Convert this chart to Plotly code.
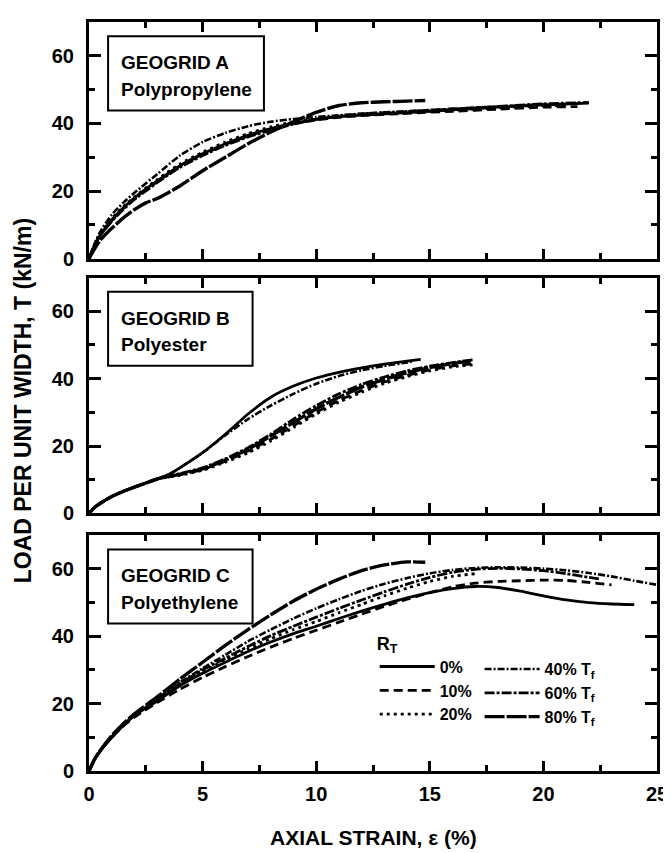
import plotly.graph_objects as go

# ---------------- data ----------------
series_names = ["0%", "10%", "20%", "40% T<sub>f</sub>", "60% T<sub>f</sub>", "80% T<sub>f</sub>"]
x_ticks = [0, 5, 10, 15, 20, 25]
y_ticks = [0, 20, 40, 60]
panel_titles = ["GEOGRID A", "GEOGRID B", "GEOGRID C"]
panel_materials = ["Polypropylene", "Polyester", "Polyethylene"]

# Geogrid A (polypropylene)
strain_A_0 = [0, 0.25, 0.5, 1, 1.5, 2, 3, 4, 5, 6, 7, 8, 9, 10, 11, 12, 14, 16, 18, 20, 22]
load_A_0 = [0, 4, 7, 11.5, 15, 18, 23, 27.5, 31, 34, 36.5, 38.5, 40, 41.2, 42, 42.5, 43.2, 44, 44.8, 45.5, 46]
strain_A_10 = [0, 0.25, 0.5, 1, 1.5, 2, 3, 4, 5, 6, 7, 8, 9, 10, 11, 12, 14, 16, 18, 20, 21.5]
load_A_10 = [0, 4, 7, 11.3, 14.8, 17.8, 22.8, 27.3, 30.8, 33.8, 36.3, 38.4, 40, 41, 41.8, 42.3, 43, 43.6, 44.2, 44.8, 45]
strain_A_20 = [0, 0.25, 0.5, 1, 1.5, 2, 3, 4, 5, 6, 7, 8, 9, 10, 11, 12, 14, 16, 18, 20, 21]
load_A_20 = [0, 4.2, 7.3, 11.8, 15.3, 18.3, 23.4, 28, 31.5, 34.5, 37, 39, 40.4, 41.3, 42, 42.5, 43.2, 43.9, 44.6, 45.2, 45.3]
strain_A_40 = [0, 0.25, 0.5, 1, 1.5, 2, 3, 4, 5, 6, 7, 8, 9, 10, 11, 12, 14, 16, 18, 20, 21]
load_A_40 = [0, 4.5, 8, 13, 16.5, 19.5, 25, 30.5, 34.5, 37.2, 39.2, 40.5, 41.3, 41.9, 42.4, 42.9, 43.6, 44.3, 45, 45.6, 45.4]
strain_A_60 = [0, 0.25, 0.5, 1, 1.5, 2, 3, 4, 5, 6, 7, 8, 9, 10, 11, 12, 14, 16, 18, 20, 22]
load_A_60 = [0, 4, 7, 11, 14.5, 17.5, 22.5, 27, 30.5, 33.5, 36, 38, 39.8, 41.2, 42.2, 42.8, 43.5, 44.3, 45, 45.8, 46.2]
strain_A_80 = [0, 0.25, 0.5, 1, 1.5, 2, 2.5, 3, 4, 5, 6, 7, 8, 9, 10, 11, 12, 13, 14, 14.8]
load_A_80 = [0, 3, 5.5, 9, 12, 14.5, 16.5, 17.8, 21.5, 26, 30, 34, 37.5, 40.5, 43.3, 45.3, 46.1, 46.4, 46.6, 46.8]

# Geogrid B (polyester)
strain_B_0 = [0, 0.25, 0.5, 1, 1.5, 2, 2.5, 3, 3.5, 4, 5, 6, 7, 8, 9, 10, 11, 12, 13, 14, 14.6]
load_B_0 = [0, 1.8, 3, 5, 6.5, 7.8, 9, 10.2, 11.5, 13.5, 18, 23.5, 29.5, 34.5, 37.8, 40.2, 41.9, 43.2, 44.3, 45.2, 45.7]
strain_B_10 = [0, 0.25, 0.5, 1, 1.5, 2, 2.5, 3, 4, 5, 6, 7, 8, 9, 10, 11, 12, 13, 14, 15, 16, 17]
load_B_10 = [0, 1.8, 3, 5, 6.5, 7.8, 9, 10.2, 11.5, 13, 15.5, 18.5, 22, 26, 30, 33.5, 36.5, 39, 41, 42.6, 43.8, 44.5]
strain_B_20 = [0, 0.25, 0.5, 1, 1.5, 2, 2.5, 3, 4, 5, 6, 7, 8, 9, 10, 11, 12, 13, 14, 15, 16, 17]
load_B_20 = [0, 1.8, 3, 5, 6.5, 7.8, 9, 10.2, 11.3, 12.8, 15.2, 18, 21.5, 25.5, 29.5, 33, 36, 38.6, 40.6, 42.3, 43.5, 44.2]
strain_B_40 = [0, 0.25, 0.5, 1, 1.5, 2, 2.5, 3, 3.5, 4, 5, 6, 7, 8, 9, 10, 11, 12, 13, 14, 14.2]
load_B_40 = [0, 1.8, 3, 5, 6.5, 7.8, 9, 10.2, 11.5, 13.5, 18, 23.2, 28, 32, 35.5, 38.5, 40.8, 42.5, 43.8, 44.8, 45]
strain_B_60 = [0, 0.25, 0.5, 1, 1.5, 2, 2.5, 3, 4, 5, 6, 7, 8, 9, 10, 11, 12, 13, 14, 15, 16, 16.9]
load_B_60 = [0, 1.8, 3, 5, 6.5, 7.8, 9, 10.2, 11.8, 13.5, 16.2, 19.5, 23.5, 28, 32, 35.5, 38.3, 40.5, 42.3, 43.7, 44.8, 45.6]
strain_B_80 = [0, 0.25, 0.5, 1, 1.5, 2, 2.5, 3, 4, 5, 6, 7, 8, 9, 10, 11, 12, 13, 14, 15, 16, 16.8]
load_B_80 = [0, 1.8, 3, 5, 6.5, 7.8, 9, 10.2, 11.6, 13.2, 15.8, 19, 23, 27, 31, 34.5, 37.5, 39.8, 41.8, 43.3, 44.5, 45.3]

# Geogrid C (polyethylene)
strain_C_0 = [0, 0.25, 0.5, 1, 1.5, 2, 3, 4, 5, 6, 7, 8, 9, 10, 11, 12, 13, 14, 15, 16, 17, 18, 19, 20, 21, 22, 23, 24]
load_C_0 = [0, 3.5, 6, 10, 13.5, 16.5, 20.8, 25.3, 29, 32.3, 35.5, 38.3, 40.8, 43, 45.3, 47.5, 49.5, 51.4, 53, 54.2, 54.8, 54.5, 53.4, 52, 50.8, 50, 49.6, 49.4]
strain_C_10 = [0, 0.25, 0.5, 1, 1.5, 2, 3, 4, 5, 6, 7, 8, 9, 10, 11, 12, 13, 14, 15, 16, 17, 18, 19, 20, 21, 22, 23]
load_C_10 = [0, 3.5, 6, 10, 13.3, 16, 20.3, 24.3, 27.8, 31, 34, 36.8, 39.4, 41.8, 44.2, 46.6, 48.9, 51, 53, 54.7, 55.8, 56.3, 56.5, 56.7, 56.6, 56, 55.3]
strain_C_20 = [0, 0.25, 0.5, 1, 1.5, 2, 3, 4, 5, 6, 7, 8, 9, 10, 11, 12, 13, 14, 15, 16, 17]
load_C_20 = [0, 3.5, 6, 10, 13.5, 16.5, 21, 25.8, 29.5, 33, 36.3, 39.3, 42, 44.4, 47, 49.5, 52, 54.3, 56.3, 57.8, 58.6]
strain_C_40 = [0, 0.25, 0.5, 1, 1.5, 2, 3, 4, 5, 6, 7, 8, 9, 10, 11, 12, 13, 14, 15, 16, 17, 18, 19, 20, 21, 22, 23, 24, 25]
load_C_40 = [0, 3.5, 6, 10, 13.5, 16.5, 21.5, 26.3, 30.5, 34.5, 38.5, 42, 45.3, 48.3, 51, 53.5, 55.6, 57.3, 58.7, 59.7, 60.3, 60.5, 60.4, 60.1, 59.6, 58.8, 57.8, 56.5, 55.3]
strain_C_60 = [0, 0.25, 0.5, 1, 1.5, 2, 3, 4, 5, 6, 7, 8, 9, 10, 11, 12, 13, 14, 15, 16, 17, 18, 19, 20, 21, 22, 22.5]
load_C_60 = [0, 3.5, 6, 10, 13.5, 16.5, 21.2, 26, 30, 33.5, 37, 40.2, 43, 45.7, 48.3, 50.8, 53.2, 55.5, 57.5, 59, 59.9, 60.2, 60, 59.5, 58.6, 57.5, 57]
strain_C_80 = [0, 0.25, 0.5, 1, 1.5, 2, 3, 4, 5, 6, 7, 8, 9, 10, 11, 12, 13, 14, 14.8]
load_C_80 = [0, 3.6, 6.2, 10.5, 14, 17, 22, 27.3, 32.3, 37.3, 42, 46.4, 50.5, 54, 57, 59.5, 61.2, 62.1, 62]

# ---------------- styling ----------------
dashes = ["solid", "9px,5px", "3px,4px", "7px,2px,2px,2px", "10px,2px,3px,2px", "20px,2px"]
widths = [2.8, 2.8, 2.8, 2.6, 2.8, 3.4]

panels = [
    [(strain_A_0, load_A_0), (strain_A_10, load_A_10), (strain_A_20, load_A_20),
     (strain_A_40, load_A_40), (strain_A_60, load_A_60), (strain_A_80, load_A_80)],
    [(strain_B_0, load_B_0), (strain_B_10, load_B_10), (strain_B_20, load_B_20),
     (strain_B_40, load_B_40), (strain_B_60, load_B_60), (strain_B_80, load_B_80)],
    [(strain_C_0, load_C_0), (strain_C_10, load_C_10), (strain_C_20, load_C_20),
     (strain_C_40, load_C_40), (strain_C_60, load_C_60), (strain_C_80, load_C_80)],
]

FONT = "Liberation Sans, Arial, sans-serif"
W, H = 671, 853
ml, mr, mt, mb = 80.5, 11, 13, 90
ph = H - mt - mb
pw = W - ml - mr
bottom_px = H - mb

def dom(top_px, bot_px):
    return [(bottom_px - bot_px) / ph, (bottom_px - top_px) / ph]

domains = [dom(mt, 250), dom(269, 505), dom(527, 763)]

fig = go.Figure()
for p, series in enumerate(panels):
    ax = "" if p == 0 else str(p + 1)
    for i, (xs, ys) in enumerate(series):
        fig.add_trace(go.Scatter(
            x=xs, y=ys, mode="lines", name=series_names[i],
            xaxis="x" + ax, yaxis="y" + ax,
            line=dict(color="black", width=widths[i], dash=dashes[i], shape="spline", smoothing=0.6),
            showlegend=(p == 2),
            legend="legend" if i < 3 else "legend2",
        ))

layout = dict(
    width=W, height=H,
    margin=dict(l=ml, r=mr, t=mt, b=mb),
    plot_bgcolor="white", paper_bgcolor="white",
    font=dict(family=FONT, color="black", size=18),
    showlegend=True,
)

for p in range(3):
    ax = "" if p == 0 else str(p + 1)
    layout["xaxis" + ax] = dict(
        domain=[0, 1], range=[0, 25], anchor="y" + ax,
        matches=None if p == 0 else "x",
        tickmode="array", tickvals=x_ticks, ticktext=[str(v) for v in x_ticks],
        ticks="inside", ticklen=10, tickwidth=2.5, tickcolor="black",
        minor=dict(dtick=2.5, tick0=0, ticks="inside", ticklen=6, tickwidth=2.5, tickcolor="black"),
        showline=True, linewidth=3, linecolor="black", mirror="ticks",
        showgrid=False, zeroline=False,
        showticklabels=(p == 2),
        tickfont=dict(size=20, family=FONT, weight="bold"),
        ticklabelstandoff=3,
    )
    layout["yaxis" + ax] = dict(
        domain=domains[p], range=[0, 70], anchor="x" + ax,
        tickmode="array", tickvals=y_ticks, ticktext=[str(v) for v in y_ticks],
        ticks="inside", ticklen=12, tickwidth=2.5, tickcolor="black",
        minor=dict(dtick=10, tick0=0, ticks="inside", ticklen=6, tickwidth=2.5, tickcolor="black"),
        showline=True, linewidth=3, linecolor="black", mirror="ticks",
        showgrid=False, zeroline=False,
        tickfont=dict(size=20, family=FONT, weight="bold"),
        ticklabelstandoff=8,
    )

LEG_FONT = dict(size=16, family=FONT, weight="bold")
layout["legend"] = dict(
    x=(372 - ml) / pw, y=(bottom_px - 618) / ph, xanchor="left", yanchor="top",
    bgcolor="rgba(0,0,0,0)", borderwidth=0, itemwidth=55,
    title=dict(text="R<sub>T</sub>", font=dict(size=18, family=FONT, weight="bold")),
    font=LEG_FONT, tracegroupgap=0,
)
layout["legend2"] = dict(
    x=(479 - ml) / pw, y=(bottom_px - 644) / ph, xanchor="left", yanchor="top",
    bgcolor="rgba(0,0,0,0)", borderwidth=0, itemwidth=55,
    font=LEG_FONT, tracegroupgap=0,
)

shapes = []
annotations = []
box_right = [7.7, 7.2, 7.2]
for p in range(3):
    ax = "" if p == 0 else str(p + 1)
    shapes.append(dict(type="rect", xref="x" + ax, yref="y" + ax,
                       x0=0.84, x1=box_right[p], y0=43.8, y1=65.8,
                       line=dict(color="black", width=2), fillcolor="white", layer="below"))
    annotations.append(dict(xref="x" + ax, yref="y" + ax, x=1.3, y=58, xanchor="left", yanchor="middle",
                            text=panel_titles[p], showarrow=False,
                            font=dict(size=19, family=FONT, weight="bold")))
    annotations.append(dict(xref="x" + ax, yref="y" + ax, x=1.3, y=50, xanchor="left", yanchor="middle",
                            text=panel_materials[p], showarrow=False,
                            font=dict(size=19, family=FONT, weight="bold")))

annotations.append(dict(xref="paper", yref="paper", x=0.5, y=(bottom_px - 830) / ph,
                        xanchor="center", yanchor="middle", showarrow=False,
                        text="AXIAL STRAIN, ε (%)", font=dict(size=21, family=FONT, weight="bold")))
annotations.append(dict(xref="paper", yref="paper", x=(14 - ml) / pw, y=(bottom_px - 392) / ph,
                        xanchor="center", yanchor="middle", showarrow=False, textangle=-90,
                        text="LOAD PER UNIT WIDTH, T (kN/m)", font=dict(size=23, family=FONT, weight="bold")))

layout["shapes"] = shapes
layout["annotations"] = annotations
fig.update_layout(**layout)
fig.write_html("out.html")
